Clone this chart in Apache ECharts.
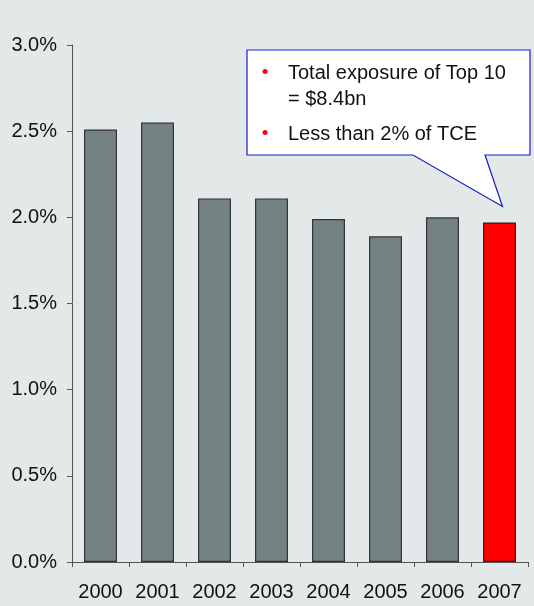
<!DOCTYPE html>
<html>
<head>
<meta charset="utf-8">
<script src="https://cdn.jsdelivr.net/npm/echarts@6/dist/echarts.min.js"></script>
<style>
  html, body { margin: 0; padding: 0; background: #e3e8e8; }
  #chart { width: 534px; height: 606px; }
</style>
</head>
<body>
<div id="chart"></div>
<script>
// Top-10 exposure as a share of total credit exposure (TCE), by year
const years = ['2000', '2001', '2002', '2003', '2004', '2005', '2006', '2007'];
const sharePct = [2.51, 2.55, 2.11, 2.11, 1.99, 1.89, 2.00, 1.97];
const highlightYear = '2007';
const calloutLines = ['Total exposure of Top 10', '= $8.4bn', 'Less than 2% of TCE'];

const FONT = '"Liberation Sans", Arial, sans-serif';
const chart = echarts.init(document.getElementById('chart'));

chart.setOption({
  backgroundColor: '#e3e8e8',
  animation: false,
  grid: { left: 72, right: 6, top: 45, bottom: 44 },
  xAxis: {
    type: 'category',
    data: years,
    axisLine: { lineStyle: { color: '#555', width: 1 } },
    axisTick: { show: true, interval: 0, length: 5, lineStyle: { color: '#555' } },
    axisLabel: { interval: 0, color: '#111', fontSize: 20, fontFamily: FONT, margin: 20 }
  },
  yAxis: {
    type: 'value',
    min: 0,
    max: 3,
    interval: 0.5,
    splitLine: { show: false },
    axisLine: { show: true, lineStyle: { color: '#555', width: 1 } },
    axisTick: { show: true, length: 5, lineStyle: { color: '#555' } },
    axisLabel: {
      color: '#111', fontSize: 20, fontFamily: FONT, margin: 15,
      formatter: v => v.toFixed(1) + '%'
    }
  },
  series: [{
    type: 'bar',
    barWidth: 33,
    data: sharePct.map((v, i) => ({
      value: v,
      itemStyle: years[i] === highlightYear
        ? { color: '#ff0000', borderColor: '#3a1a1a', borderWidth: 1.2 }
        : { color: '#748284', borderColor: '#333', borderWidth: 1.2 }
    }))
  }]
});

// Speech-bubble annotation pointing at the highlighted bar
const idx = years.indexOf(highlightYear);
const tip = chart.convertToPixel({ gridIndex: 0 }, [idx, sharePct[idx]]);
const tipX = tip[0] + 3, tipY = tip[1] - 16;
const box = { x1: 247, y1: 50, x2: 530, y2: 155 };
const bubble = [
  [box.x1, box.y1], [box.x2, box.y1], [box.x2, box.y2],
  [485, box.y2], [tipX, tipY], [413, box.y2], [box.x1, box.y2]
];
const textStyle = { fill: '#111', fontSize: 20, fontFamily: FONT, verticalAlign: 'middle' };
const bulletStyle = { fill: '#ff0000', fontSize: 19, fontFamily: FONT, verticalAlign: 'middle', align: 'center' };

chart.setOption({
  graphic: [
    { type: 'polygon', shape: { points: bubble }, style: { fill: '#ffffff', stroke: '#1a1acc', lineWidth: 1.2 }, z: 10 },
    { type: 'text', x: 265, y: 73, style: Object.assign({ text: '•' }, bulletStyle), z: 11 },
    { type: 'text', x: 288, y: 73, style: Object.assign({ text: calloutLines[0] }, textStyle), z: 11 },
    { type: 'text', x: 288, y: 99, style: Object.assign({ text: calloutLines[1] }, textStyle), z: 11 },
    { type: 'text', x: 265, y: 134, style: Object.assign({ text: '•' }, bulletStyle), z: 11 },
    { type: 'text', x: 288, y: 134, style: Object.assign({ text: calloutLines[2] }, textStyle), z: 11 }
  ]
});
</script>
</body>
</html>
